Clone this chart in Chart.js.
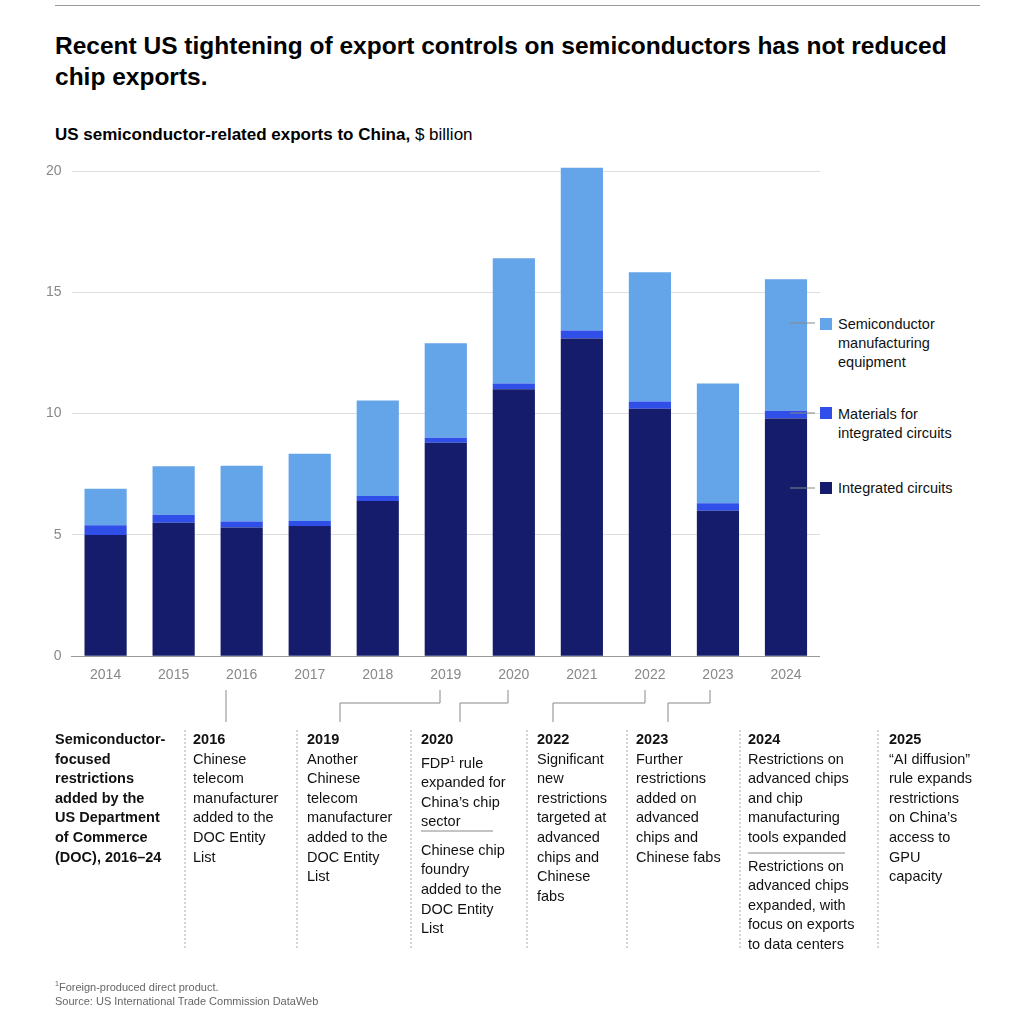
<!DOCTYPE html>
<html><head><meta charset="utf-8">
<script src="https://cdn.jsdelivr.net/npm/chart.js@4"></script>
<style>
body{margin:0;background:#fff;font-family:"Helvetica Neue",Arial,"Liberation Sans",sans-serif;color:#000;}
#wrap{position:relative;width:1024px;height:1022px;}
.topline{position:absolute;left:55px;top:5px;width:925px;height:1px;background:#999;}
h1{position:absolute;left:55px;top:30px;margin:0;font-size:24.5px;font-weight:700;line-height:31px;width:940px;}
.sub{position:absolute;left:55px;top:125px;font-size:17px;}
.sub b{font-weight:700}
#cw{position:absolute;left:36px;top:150px;width:784px;height:537px;}
.leg{position:absolute;left:838px;font-size:14.5px;line-height:19px;color:#111;}
.sw{position:absolute;left:820px;width:12px;height:12px;}
.ann{position:absolute;top:730px;font-size:14.5px;line-height:19.6px;color:#111;}
.ann b{font-weight:700}
.foot{position:absolute;left:55px;top:977px;font-size:11px;color:#666;line-height:14px;}
svg{position:absolute;left:0;top:0;}
</style></head><body><div id="wrap">
<div class="topline"></div>
<h1>Recent US tightening of export controls on semiconductors has not reduced chip exports.</h1>
<div class="sub"><b>US semiconductor-related exports to China,</b> $ billion</div>
<div id="cw"><canvas id="c"></canvas></div>
<div class="sw" style="top:318px;background:#63a5e8"></div>
<div class="leg" style="top:315px">Semiconductor<br>manufacturing<br>equipment</div>
<div class="sw" style="top:407px;background:#2f4fe8"></div>
<div class="leg" style="top:405px">Materials for<br>integrated circuits</div>
<div class="sw" style="top:482px;background:#141c6b"></div>
<div class="leg" style="top:479px">Integrated circuits</div>
<svg width="1024" height="1022">
<g stroke="#888" stroke-width="1" fill="none">
<line x1="790" y1="323" x2="815" y2="323"/><line x1="790" y1="413" x2="815" y2="413"/><line x1="790" y1="488" x2="815" y2="488"/>
<polyline points="226,690 226,722"/>
<polyline points="440,690 440,703 340,703 340,722"/>
<polyline points="508,690 508,703 460,703 460,722"/>
<polyline points="645,690 645,703 553,703 553,722"/>
<polyline points="710,690 710,703 668,703 668,722"/>
<line x1="421" y1="831" x2="493" y2="831"/>
<line x1="748" y1="853" x2="845" y2="853"/>
</g>
<g stroke="#aaa" stroke-width="1" stroke-dasharray="2,2">
<line x1="185" y1="730" x2="185" y2="950"/><line x1="297" y1="730" x2="297" y2="950"/>
<line x1="411" y1="730" x2="411" y2="950"/><line x1="527" y1="730" x2="527" y2="950"/>
<line x1="627" y1="730" x2="627" y2="950"/><line x1="740" y1="730" x2="740" y2="950"/>
<line x1="878" y1="730" x2="878" y2="950"/>
</g></svg>
<div class="ann" style="left:55px;font-weight:700">Semiconductor-<br>focused<br>restrictions<br>added by the<br>US Department<br>of Commerce<br>(DOC), 2016–24</div>
<div class="ann" style="left:193px"><b>2016</b><br>Chinese<br>telecom<br>manufacturer<br>added to the<br>DOC Entity<br>List</div>
<div class="ann" style="left:307px"><b>2019</b><br>Another<br>Chinese<br>telecom<br>manufacturer<br>added to the<br>DOC Entity<br>List</div>
<div class="ann" style="left:421px"><b>2020</b><br>FDP<sup style="font-size:9px">1</sup> rule<br>expanded for<br>China’s chip<br>sector<br><div style="height:9px"></div>Chinese chip<br>foundry<br>added to the<br>DOC Entity<br>List</div>
<div class="ann" style="left:537px"><b>2022</b><br>Significant<br>new<br>restrictions<br>targeted at<br>advanced<br>chips and<br>Chinese<br>fabs</div>
<div class="ann" style="left:636px"><b>2023</b><br>Further<br>restrictions<br>added on<br>advanced<br>chips and<br>Chinese fabs</div>
<div class="ann" style="left:748px"><b>2024</b><br>Restrictions on<br>advanced chips<br>and chip<br>manufacturing<br>tools expanded<br><div style="height:9px"></div>Restrictions on<br>advanced chips<br>expanded, with<br>focus on exports<br>to data centers</div>
<div class="ann" style="left:889px"><b>2025</b><br>“AI diffusion”<br>rule expands<br>restrictions<br>on China’s<br>access to<br>GPU<br>capacity</div>
<div class="foot"><sup style="font-size:7px">1</sup>Foreign-produced direct product.<br>Source: US International Trade Commission DataWeb</div>
</div>
<script>
const years=["2014","2015","2016","2017","2018","2019","2020","2021","2022","2023","2024"];
const integratedCircuits=[5.0,5.5,5.3,5.37,6.4,8.8,11.0,13.1,10.2,6.0,9.8];
const materials=[0.4,0.33,0.25,0.2,0.2,0.2,0.24,0.33,0.3,0.3,0.32];
const equipment=[1.5,2.0,2.3,2.77,3.94,3.9,5.16,6.7,5.33,4.94,5.42];
new Chart(document.getElementById('c'),{type:'bar',
data:{labels:years,datasets:[
{label:'Integrated circuits',data:integratedCircuits,backgroundColor:'#141c6b',clip:false},
{label:'Materials for integrated circuits',data:materials,backgroundColor:'#2f4fe8',clip:false},
{label:'Semiconductor manufacturing equipment',data:equipment,backgroundColor:'#63a5e8',clip:false}]},
options:{responsive:true,maintainAspectRatio:false,animation:false,
layout:{padding:{top:21,right:0,bottom:0,left:0}},
plugins:{legend:{display:false},tooltip:{enabled:false}},
datasets:{bar:{categoryPercentage:0.62,barPercentage:1}},
scales:{x:{stacked:true,grid:{display:false},border:{color:'#999'},ticks:{color:'#888',font:{size:14}}},
y:{stacked:true,min:0,max:20,ticks:{stepSize:5,color:'#888',font:{size:14},padding:10},
grid:{color:'#ddd',drawTicks:false},border:{display:false}}}}});
</script></body></html>
